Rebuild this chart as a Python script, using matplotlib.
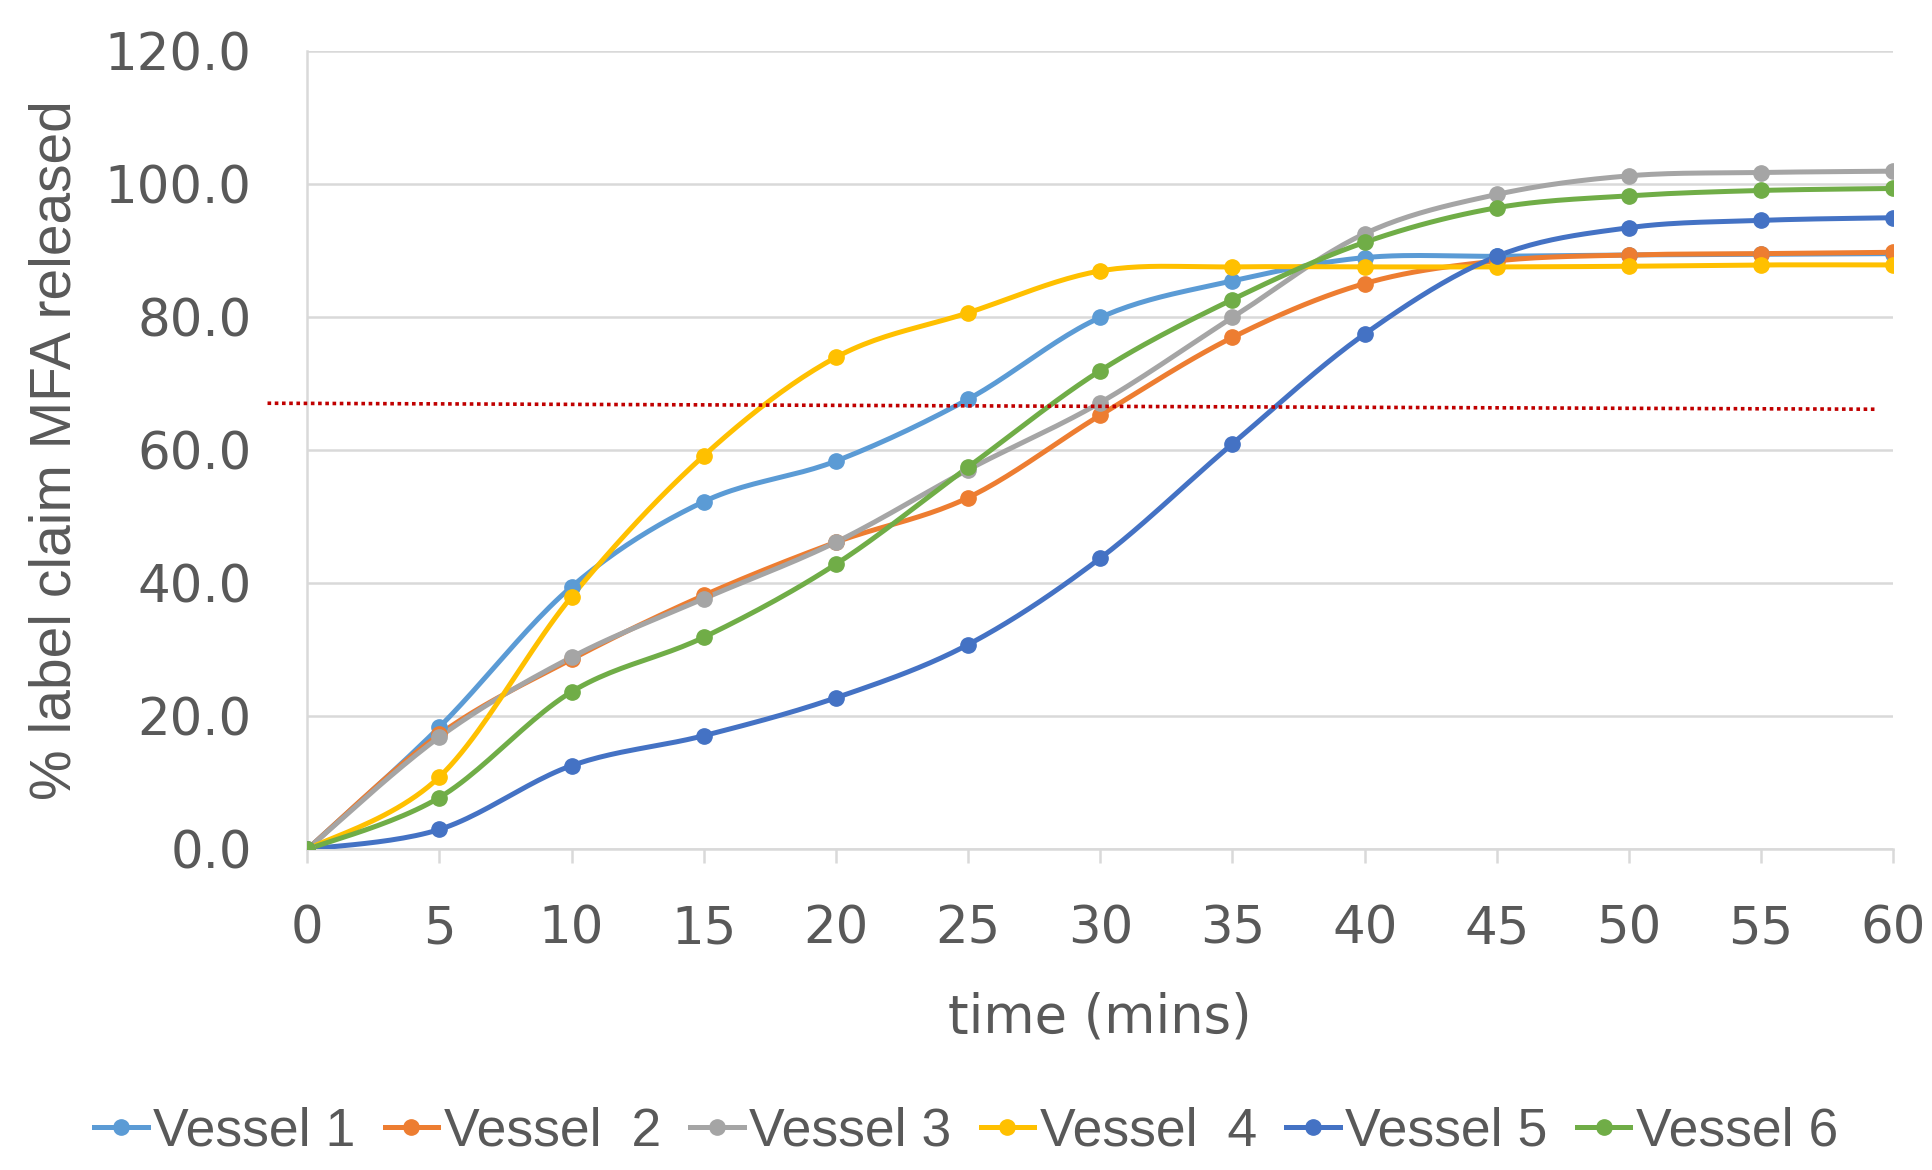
import numpy as np
import matplotlib.pyplot as plt
from matplotlib.lines import Line2D

# sampling times (mins)
times = [0, 5, 10, 15, 20, 25, 30, 35, 40, 45, 50, 55, 60]

# % label claim released per vessel
vessel_1 = [0.0, 18.4, 39.5, 52.3, 58.4, 67.7, 80.0, 85.5, 89.0, 89.2, 89.4, 89.5, 89.6]
vessel_2 = [0.0, 17.3, 28.6, 38.2, 46.2, 52.9, 65.3, 77.0, 85.1, 88.5, 89.4, 89.6, 89.8]
vessel_3 = [0.0, 16.9, 28.9, 37.7, 46.2, 57.1, 67.2, 80.0, 92.6, 98.5, 101.3, 101.8, 102.0]
vessel_4 = [0.0, 10.9, 38.0, 59.2, 74.0, 80.7, 87.0, 87.6, 87.6, 87.6, 87.7, 87.9, 87.9]
vessel_5 = [0.0, 3.0, 12.6, 17.1, 22.8, 30.8, 43.8, 61.0, 77.5, 89.2, 93.5, 94.6, 95.0]
vessel_6 = [0.0, 7.8, 23.7, 31.9, 42.9, 57.5, 72.0, 82.7, 91.3, 96.5, 98.3, 99.1, 99.4]

labels = ['Vessel 1', 'Vessel  2', 'Vessel 3', 'Vessel  4', 'Vessel 5', 'Vessel 6']
colors = ['#5B9BD5', '#ED7D31', '#A5A5A5', '#FFC000', '#4472C4', '#70AD47']
series = [vessel_1, vessel_2, vessel_3, vessel_4, vessel_5, vessel_6]

# reference level line (drawn shape)
ref_x = [-1.5, 59.3]
ref_y = [67.1, 66.2]


def smooth(x, y, n=24):
    """Bezier smoothing through every point (Catmull-Rom style control points)."""
    p = np.column_stack([x, y]).astype(float)
    ext = np.vstack([p[0], p, p[-1]])
    out = []
    t = np.linspace(0, 1, n, endpoint=False)[:, None]
    for i in range(len(p) - 1):
        p0, p1, p2, p3 = ext[i], ext[i + 1], ext[i + 2], ext[i + 3]
        c1 = p1 + (p2 - p0) / 6
        c2 = p2 - (p3 - p1) / 6
        seg = ((1 - t) ** 3) * p1 + 3 * ((1 - t) ** 2) * t * c1 + 3 * (1 - t) * t ** 2 * c2 + t ** 3 * p2
        out.append(seg)
    out.append(p[-1][None, :])
    out = np.vstack(out)
    return out[:, 0], out[:, 1]


fig = plt.figure(figsize=(19.32, 11.7), dpi=100)
ax = fig.add_axes([0.159, 0.274, 0.821, 0.682])

grey = '#595959'
narrow = ['Liberation Sans', 'DejaVu Sans']

for vals, c in zip(series, colors):
    sx, sy = smooth(times, vals)
    ax.plot(sx, sy, color=c, lw=3.6, solid_capstyle='round', zorder=3)
    ax.plot(times, vals, 'o', color=c, ms=11, zorder=4)

ax.plot(ref_x, ref_y, color='#C00000', lw=2.6, ls=(0, (1, 1)), clip_on=False, zorder=5)

ax.set_xlim(0, 60)
ax.set_ylim(0, 120)
ax.set_xticks(times)
ax.set_yticks(np.arange(0, 121, 20))
ax.set_yticklabels([f'{v:.1f}' for v in np.arange(0, 121, 20)])

ax.grid(axis='y', color='#D9D9D9', lw=1.8)
ax.set_axisbelow(True)
for s in ['top', 'right']:
    ax.spines[s].set_visible(False)
for s in ['left', 'bottom']:
    ax.spines[s].set_color('#D9D9D9')
    ax.spines[s].set_linewidth(1.8)

ax.tick_params(axis='x', direction='out', length=10, width=1.8, color='#D9D9D9',
               labelsize=37, labelcolor=grey, pad=30)
ax.tick_params(axis='y', length=0, labelsize=37, labelcolor=grey, pad=40)

ax.set_xlabel('time (mins)', fontsize=38, color=grey, labelpad=26)
ax.set_ylabel('% label claim MFA released', fontsize=41, color=grey, labelpad=16,
              family=narrow)

handles = [Line2D([0], [0], color=c, lw=3.6, marker='o', ms=11) for c in colors]
fig.legend(handles, labels, loc='center', bbox_to_anchor=(0.5, 0.033), ncol=6,
           frameon=False, handlelength=1.0, handletextpad=0.1, columnspacing=0.55,
           prop={'family': narrow, 'size': 38.5}, labelcolor=grey)

fig.savefig('out.png', dpi=100)
